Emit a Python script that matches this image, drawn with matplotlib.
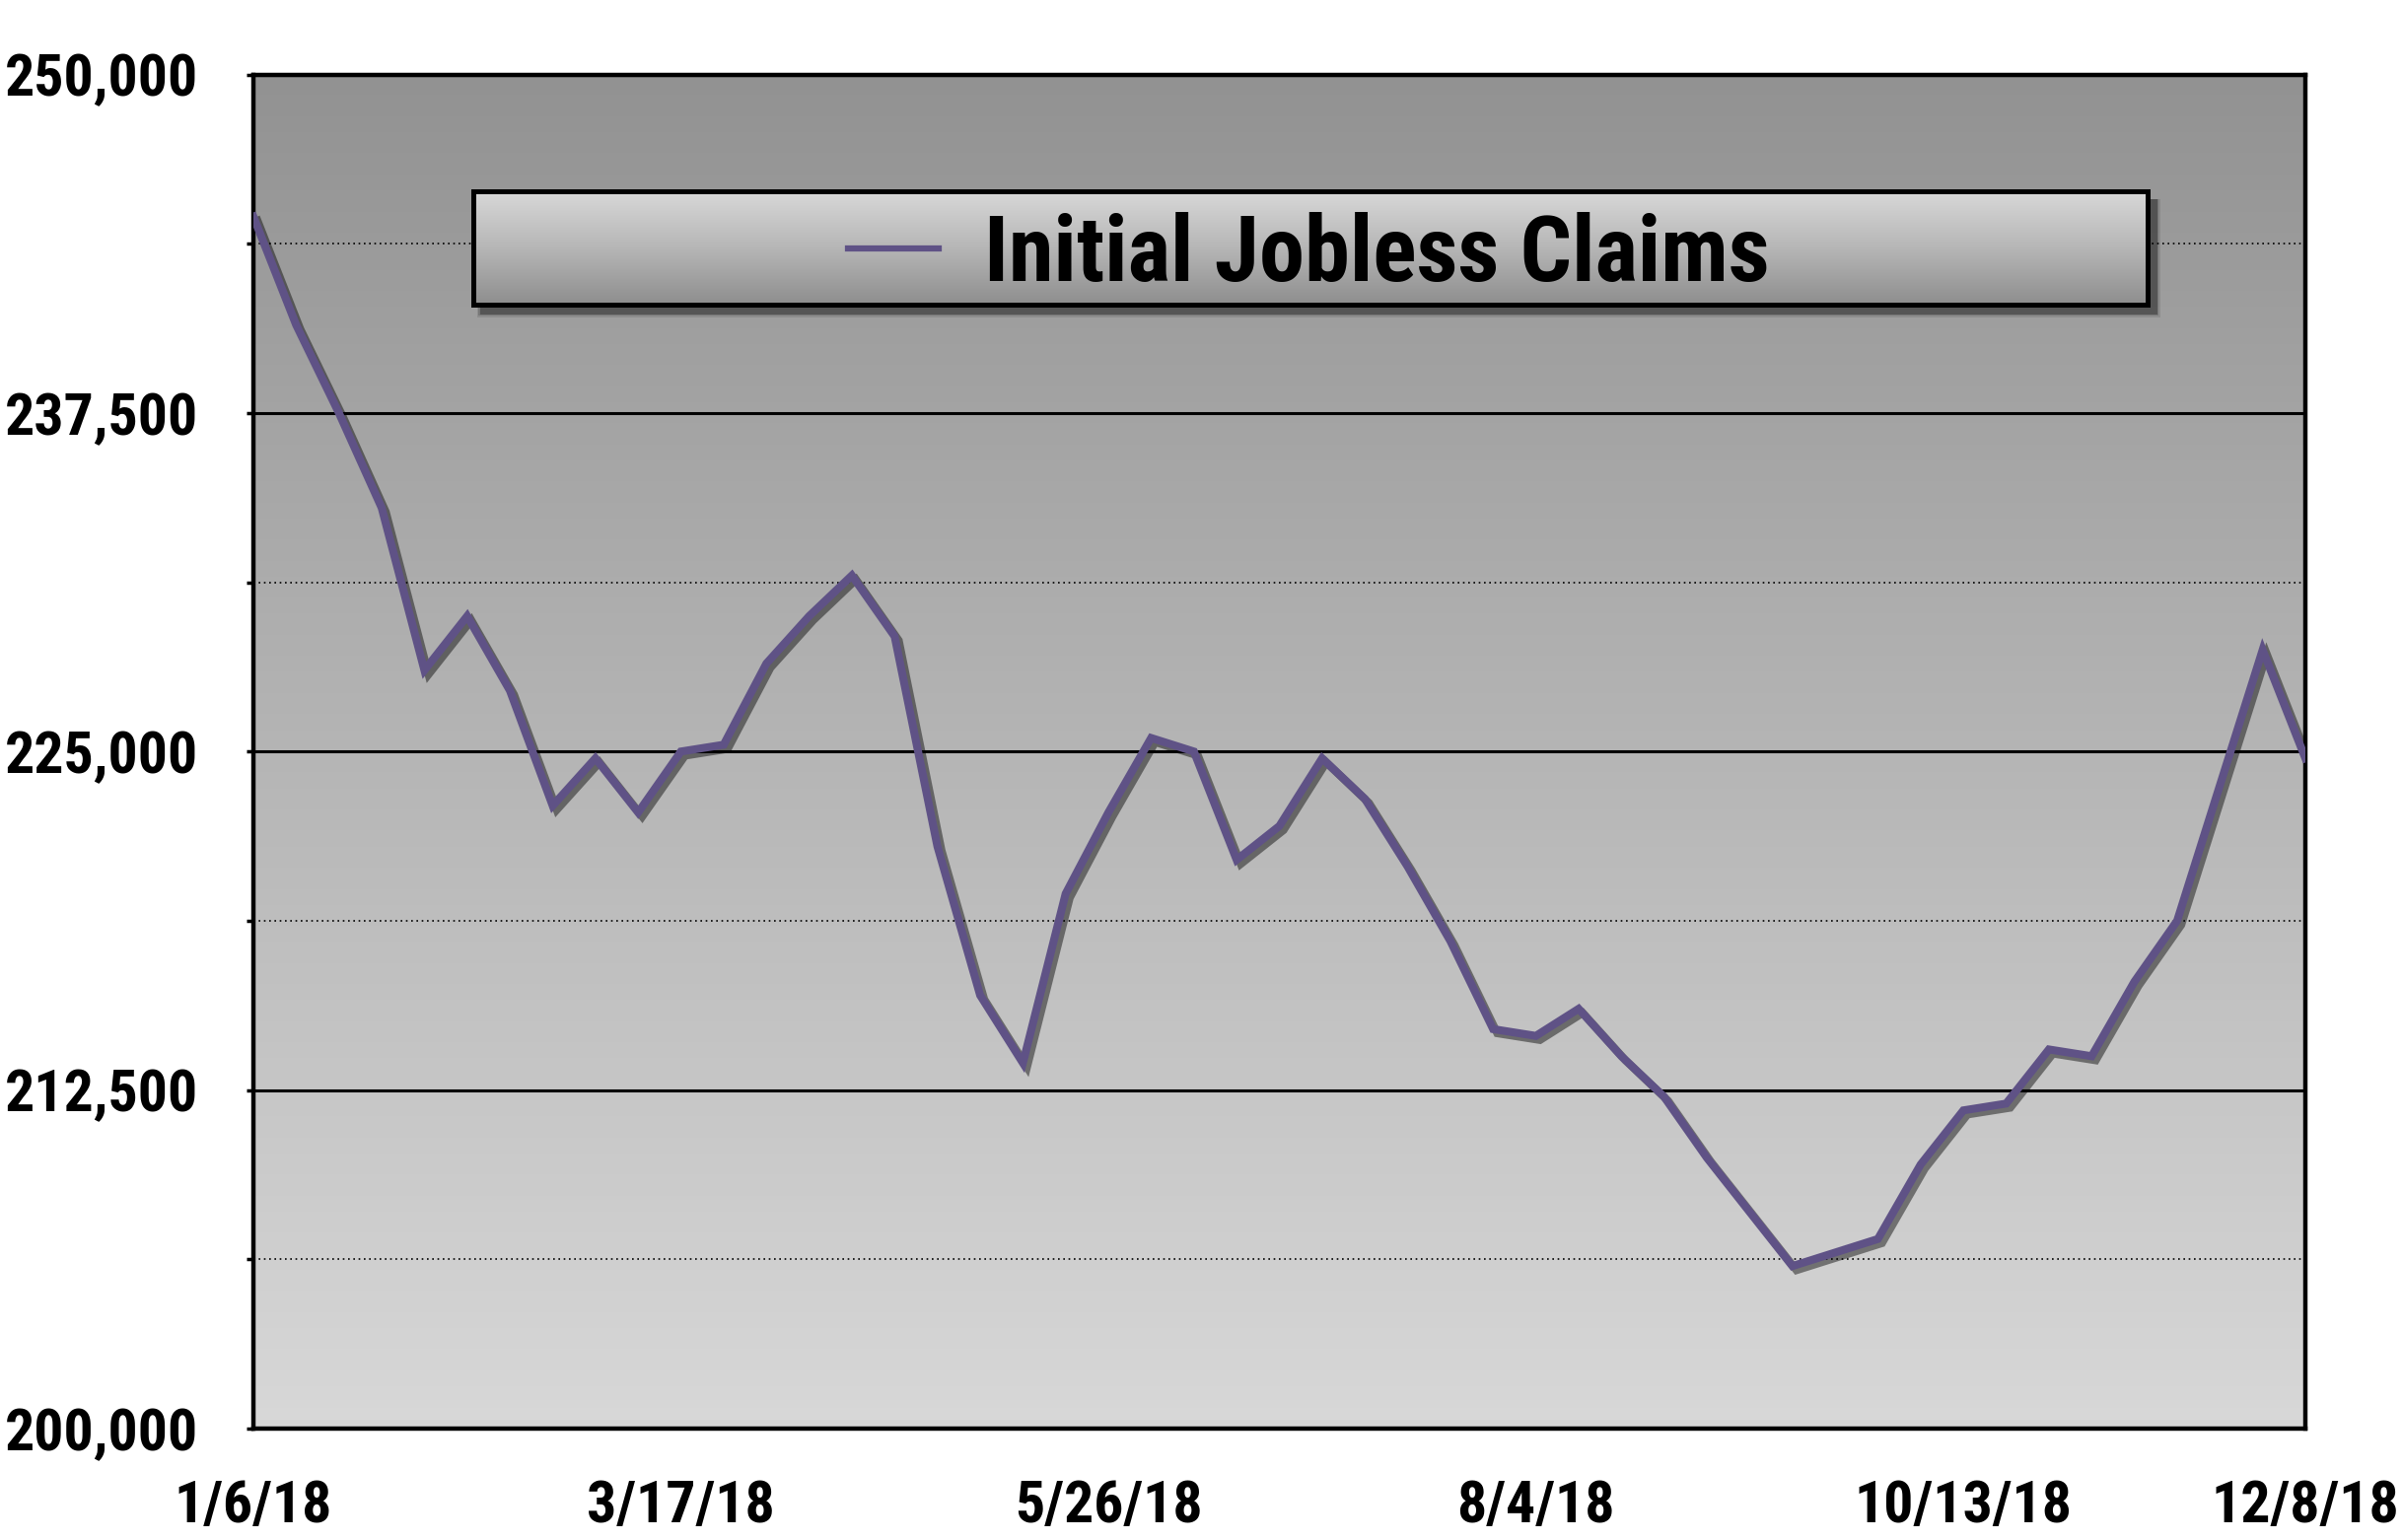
import numpy as np
import matplotlib
matplotlib.use('Agg')
import matplotlib.pyplot as plt
from matplotlib import font_manager as fm
from matplotlib.colors import LinearSegmentedColormap
from matplotlib.patches import Rectangle
from matplotlib.lines import Line2D
import matplotlib.patheffects as pe
from matplotlib.ticker import FixedLocator, FuncFormatter

# ---- data ----
claims = [244750, 240750, 237500, 234000, 228000, 230000, 227250, 223000, 224750, 222750,
          225000, 225250, 228250, 230000, 231500, 229250, 221500, 216000, 213500, 219750,
          222750, 225500, 225000, 221000, 222250, 224750, 223250, 220750, 218000, 214750,
          214500, 215500, 213750, 212250, 210000, 208000, 206000, 206500, 207000, 209750,
          211750, 212000, 214000, 213750, 216500, 218750, 223750, 228750, 224750]
weeks = list(range(len(claims)))
xtick_pos = [0, 10, 20, 30, 40, 48]
xtick_labels = ['1/6/18', '3/17/18', '5/26/18', '8/4/18', '10/13/18', '12/8/18']
ymajor = [200000, 212500, 225000, 237500, 250000]
yminor = [206250, 218750, 231250, 243750]
series_name = 'Initial Jobless Claims'

_avail = {f.name for f in fm.fontManager.ttflist}
_cands = ['Roboto Condensed', 'Archivo Narrow', 'PT Sans Narrow', 'IBM Plex Sans Condensed',
          'Open Sans Condensed']
FONT = [c for c in _cands if c in _avail][:1] + ['DejaVu Sans']
LINE_COLOR = '#5f5286'

W, H = 2436, 1562
fig = plt.figure(figsize=(W / 100, H / 100), dpi=100)
L, R, T, B = 257, 2338, 75.5, 1449
ax = fig.add_axes([L / W, 1 - B / H, (R - L) / W, (B - T) / H])

# gradient background
bg = LinearSegmentedColormap.from_list('bg', ['#929292', '#d8d8d8'])
ax.imshow(np.linspace(0, 1, 256).reshape(-1, 1), cmap=bg, aspect='auto',
          extent=[0, 1, 0, 1], transform=ax.transAxes, zorder=0, origin='upper')

ax.plot(weeks, claims, color=LINE_COLOR, lw=5.8, zorder=3, solid_joinstyle='miter',
        path_effects=[pe.SimpleLineShadow(offset=(3, -3), shadow_color='black', alpha=0.45),
                      pe.Normal()])

ax.set_xlim(0, len(claims) - 1)
ax.set_ylim(200000, 250000)

ax.yaxis.set_major_locator(FixedLocator(ymajor))
ax.yaxis.set_minor_locator(FixedLocator(yminor))
ax.yaxis.set_major_formatter(FuncFormatter(lambda v, p: f'{int(v):,}'))
ax.set_xticks(xtick_pos)
ax.set_xticklabels(xtick_labels)

ax.grid(axis='y', which='major', color='black', lw=2.2, zorder=1)
ax.grid(axis='y', which='minor', color='black', lw=1.2, linestyle=(0, (1, 2.2)), zorder=1)
ax.set_axisbelow(True)

ax.tick_params(axis='y', which='both', length=5, width=2.5, direction='out', pad=35)
ax.tick_params(axis='x', length=0, pad=37)
for lab in ax.get_yticklabels() + ax.get_xticklabels():
    lab.set_fontfamily(FONT)
    lab.set_fontweight('bold')
    lab.set_fontsize(43)

for s in ax.spines.values():
    s.set_linewidth(3.2)
    s.set_color('black')

# legend box (gradient, border, shadow)
lx0, lx1 = (480 - L) / (R - L), (2178 - L) / (R - L)
ly0, ly1 = (B - 309) / (B - T), (B - 194) / (B - T)
px, py = 1 / (R - L), 1 / (B - T)
for k, a in enumerate([0.10, 0.16, 0.28]):
    grow = (3 - k) * 3
    ax.add_patch(Rectangle((lx0 + 8 * px - grow * px * 0.5, ly0 - 8 * py - grow * py * 0.5),
                           lx1 - lx0 + grow * px, ly1 - ly0 + grow * py * 0.5,
                           transform=ax.transAxes, facecolor='black', alpha=a,
                           edgecolor='none', zorder=4))
lg = LinearSegmentedColormap.from_list('lg', ['#d8d8d8', '#b6b6b6', '#8e8e8e'])
ax.imshow(np.linspace(0, 1, 256).reshape(-1, 1), cmap=lg, aspect='auto',
          extent=[lx0, lx1, ly0, ly1], transform=ax.transAxes, zorder=4.5, origin='upper')
ax.add_patch(Rectangle((lx0, ly0), lx1 - lx0, ly1 - ly0, transform=ax.transAxes,
                       facecolor='none', edgecolor='black', lw=3.6, zorder=4.8))

handle = Line2D([], [], color=LINE_COLOR, lw=4.5)
leg = ax.legend([handle], [series_name], loc='center left',
                bbox_to_anchor=((864 - L) / (R - L) - 0.002, (B - 259) / (B - T)),
                frameon=False, borderpad=0, borderaxespad=0,
                handlelength=1.0, handletextpad=0.5,
                prop={'family': FONT, 'weight': 'bold', 'size': 66.5})
leg.set_zorder(6)

fig.savefig('out.png', dpi=100, facecolor='white')
